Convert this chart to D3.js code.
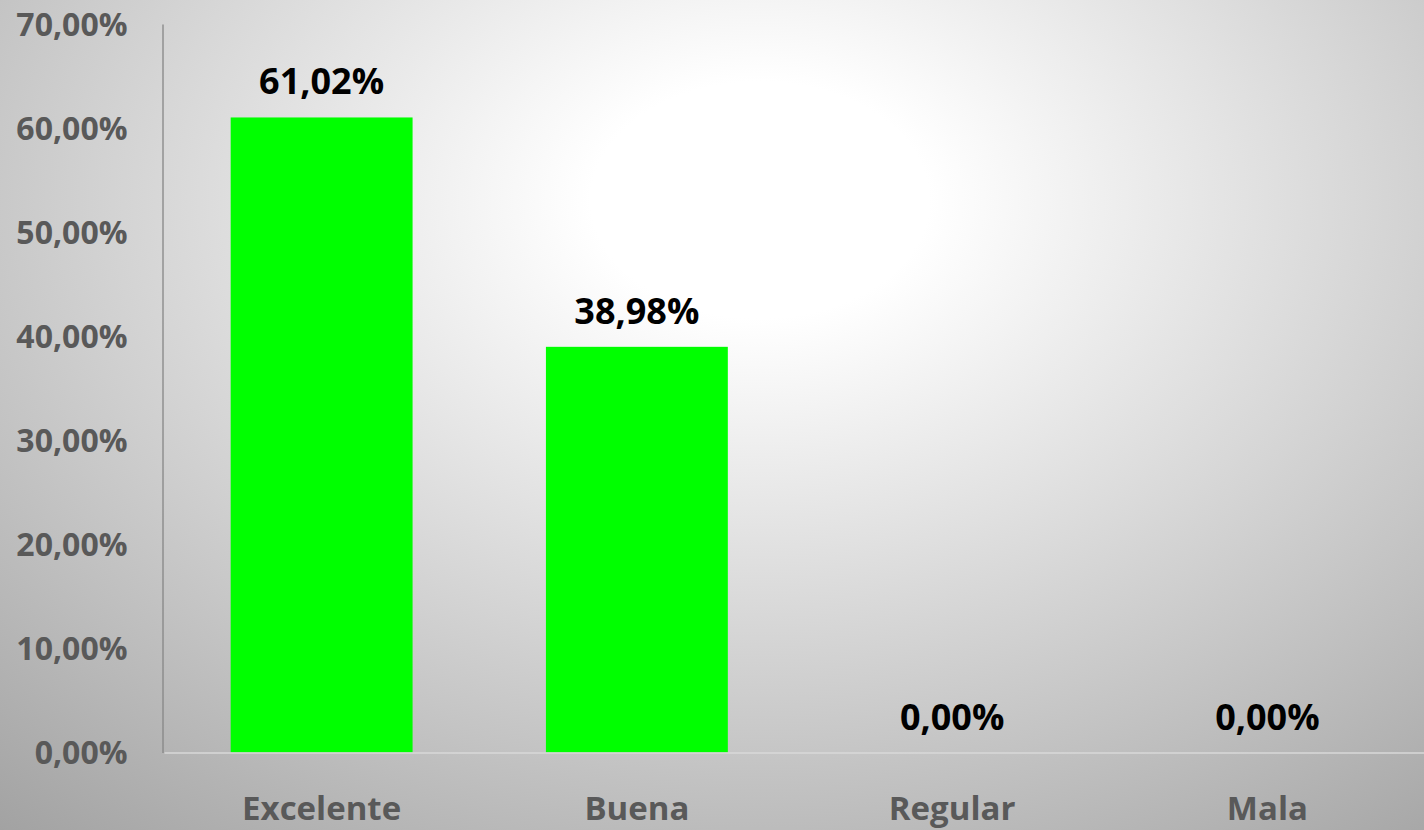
<!DOCTYPE html>
<html>
<head>
<meta charset="utf-8">
<script src="https://cdn.jsdelivr.net/npm/d3@7"></script>
<style>
  html, body { margin: 0; padding: 0; overflow: hidden; }
  svg { display: block; }
</style>
</head>
<body>
<svg id="chart" width="1424" height="830"></svg>
<script>
const categories = ["Excelente", "Buena", "Regular", "Mala"];
const values = [0.6102, 0.3898, 0.0, 0.0];
const yTicks = [0, 0.1, 0.2, 0.3, 0.4, 0.5, 0.6, 0.7];

const W = 1424, H = 830;
const svg = d3.select("#chart");
const locale = d3.formatLocale({ decimal: ",", thousands: ".", grouping: [3], currency: ["", " €"], percent: "%" });
const fmt = locale.format(".2%");

// background radial gradient
const defs = svg.append("defs");
const grad = defs.append("radialGradient")
  .attr("id", "bg")
  .attr("gradientUnits", "userSpaceOnUse")
  .attr("cx", 0).attr("cy", 0).attr("r", 1)
  .attr("gradientTransform", "translate(760,200) scale(1300,910)");
grad.append("stop").attr("offset", 0).attr("stop-color", "#ffffff");
grad.append("stop").attr("offset", 0.13).attr("stop-color", "#ffffff");
grad.append("stop").attr("offset", 1).attr("stop-color", "#979797");
svg.append("rect").attr("width", W).attr("height", H).attr("fill", "url(#bg)");

const x = d3.scaleBand().domain(categories).range([164, 1425]).paddingInner(0.423).paddingOuter(0.2115);
const y = d3.scaleLinear().domain([0, 0.7]).range([752.5, 24]);

// bars
svg.append("g").selectAll("rect").data(values).join("rect")
  .attr("x", (d, i) => x(categories[i]))
  .attr("width", x.bandwidth())
  .attr("y", d => y(d))
  .attr("height", d => y(0) - y(d))
  .attr("fill", "#00ff00");

// x axis
const gx = svg.append("g").attr("transform", `translate(0,${y(0)})`)
  .call(d3.axisBottom(x).tickSize(0).tickSizeOuter(0));
gx.select(".domain").attr("stroke", "#d9d9d9").attr("stroke-width", 1.5);
gx.selectAll("text")
  .attr("y", 820 - y(0)).attr("dy", 0)
  .attr("fill", "#595959")
  .style("font-family", "'Open Sans', sans-serif")
  .style("font-weight", 700)
  .style("font-size", "33px");

// y axis
const gy = svg.append("g").attr("transform", "translate(162.5,0)")
  .call(d3.axisLeft(y).tickValues(yTicks).tickFormat(fmt).tickSize(0).tickSizeOuter(0).tickPadding(35));
gy.select(".domain").attr("stroke", "#868686").attr("stroke-width", 1.3);
gy.selectAll("text")
  .attr("dy", "0.35em")
  .attr("fill", "#595959")
  .style("font-family", "'Open Sans', sans-serif")
  .style("font-weight", 700)
  .style("font-size", "32px");

// data labels
svg.append("g").selectAll("text").data(values).join("text")
  .attr("x", (d, i) => x(categories[i]) + x.bandwidth() / 2)
  .attr("y", d => y(d) - 23)
  .attr("text-anchor", "middle")
  .attr("fill", "#000000")
  .style("font-family", "'Open Sans', sans-serif")
  .style("font-weight", 700)
  .style("font-size", "36px")
  .text(d => fmt(d));
</script>
</body>
</html>
